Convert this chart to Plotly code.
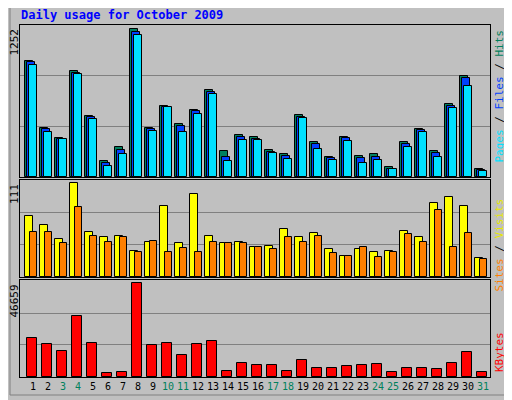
import plotly.graph_objects as go

days = list(range(1, 32))
weekend = [3, 4, 10, 11, 17, 18, 24, 25, 31]

hits = [984, 417, 333, 900, 519, 138, 257, 1252, 417, 603, 451, 570, 739, 223, 358, 341,
        231, 197, 527, 299, 172, 341, 180, 197, 87, 299, 409, 223, 620, 857, 70]
files = [973, 406, 324, 883, 508, 118, 231, 1230, 406, 595, 434, 558, 722, 172, 341, 324,
         214, 180, 510, 282, 164, 333, 164, 172, 71, 282, 400, 206, 603, 840, 62]
pages = [950, 384, 324, 874, 494, 96, 197, 1204, 392, 595, 384, 536, 705, 138, 316, 316,
         206, 155, 502, 240, 147, 307, 121, 147, 71, 257, 384, 172, 587, 773, 54]
visits = [72, 62, 45, 111, 53, 47, 49, 31, 42, 84, 40, 99, 49, 40, 42, 35,
          37, 57, 48, 52, 33, 25, 33, 30, 31, 55, 48, 88, 95, 84, 22]
sites = [53, 53, 40, 83, 49, 41, 47, 30, 43, 30, 34, 30, 41, 40, 40, 36,
         33, 47, 41, 49, 28, 25, 35, 24, 30, 51, 41, 80, 36, 52, 21]
kbytes = [19585, 16519, 12943, 30313, 17030, 2214, 2725, 46659, 16008, 17030, 10899, 16519,
          18052, 3236, 6812, 5790, 5790, 3236, 8345, 4258, 4258, 5279, 5790, 6301, 2725,
          4258, 4258, 3747, 6812, 12432, 2725]

FONT = "DejaVu Sans Mono"
BG = "#c0c0c0"
W, H, OFF = 504, 392, 8   # page body margin pushes the figure 8px right/down

def px(p):
    return (p - OFF) / W

def py(p):
    return 1 - (p - OFF) / H

fig = go.Figure()

def bar(y, color, offset, width, xa, ya):
    fig.add_trace(go.Bar(x=days, y=y, offset=offset, width=width, xaxis=xa, yaxis=ya,
                         marker=dict(color=color, line=dict(color="black", width=1)),
                         showlegend=False, hoverinfo="y"))

bar(hits, "#008060", -0.53, 0.55, "x", "y")
bar(files, "#0040ff", -0.42, 0.55, "x", "y")
bar(pages, "#00e0ff", -0.25, 0.5, "x", "y")
bar(visits, "#ffff00", -0.53, 0.53, "x2", "y2")
bar(sites, "#ff8000", -0.23, 0.5, "x2", "y2")
bar(kbytes, "#ff0000", -0.43, 0.67, "x3", "y3")

xr = [0.133, 31.467]
xdom = [px(20), px(490)]
ticktext = [f"<span style='color:#00805c'>{d}</span>" if d in weekend else str(d) for d in days]

ax = dict(range=xr, domain=xdom, showgrid=False, zeroline=False, showline=True,
          linecolor="black", mirror=True, fixedrange=True)
yax = dict(showticklabels=False, gridcolor="#808080", zeroline=False,
           showline=True, linecolor="black", mirror=True, fixedrange=True)
fig.update_layout(
    width=W, height=H, margin=dict(l=0, r=0, t=0, b=0),
    paper_bgcolor=BG, plot_bgcolor=BG, barmode="overlay", bargap=0,
    font=dict(family=FONT, size=11, color="black"),
    xaxis=dict(ax, anchor="y", showticklabels=False, ticks=""),
    xaxis2=dict(ax, anchor="y2", showticklabels=False, ticks=""),
    xaxis3=dict(ax, anchor="y3", tickmode="array", tickvals=days, ticktext=ticktext,
                ticks="", tickangle=0, tickfont=dict(family=FONT, size=10)),
    yaxis=dict(yax, domain=[py(177), py(25)], range=[0, 1286], tickvals=[429, 857]),
    yaxis2=dict(yax, domain=[py(277), py(180)], range=[0, 115], tickvals=[38, 76.5]),
    yaxis3=dict(yax, domain=[py(377), py(280)], range=[0, 48365], tickvals=[16000, 31900]),
)

def note(text, x, y, xanchor, yanchor, angle=0, color="black", size=11, bold=False):
    if bold:
        text = "<b>" + text + "</b>"
    fig.add_annotation(text=text, x=px(x), y=py(y), xref="paper", yref="paper",
                       xanchor=xanchor, yanchor=yanchor, textangle=angle, showarrow=False,
                       font=dict(family=FONT, size=size, color=color))

note("Daily usage for October 2009", 19, 15, "left", "middle", color="#0000ff", size=12, bold=True)
note("1252", 14, 27, "center", "top", angle=-90)
note("111", 14, 182, "center", "top", angle=-90)
note("46659", 14, 283, "center", "top", angle=-90)
note("<span style='color:#00e0ff'>Pages</span> / <span style='color:#0040ff'>Files</span>"
     " / <span style='color:#00805c'>Hits</span>", 499, 28, "center", "top", angle=-90)
note("<span style='color:#ff8000'>Sites</span> / <span style='color:#e8e800'>Visits</span>",
     499, 197, "center", "top", angle=-90)
note("KBytes", 499, 330, "center", "top", angle=-90, color="#ff0000")

# inner bevel of the frame
fig.add_shape(type="rect", xref="paper", yref="paper", x0=px(10), y0=py(395), x1=px(505), y1=py(5),
              line=dict(color="#808080", width=1))

fig.write_html("out.html")
